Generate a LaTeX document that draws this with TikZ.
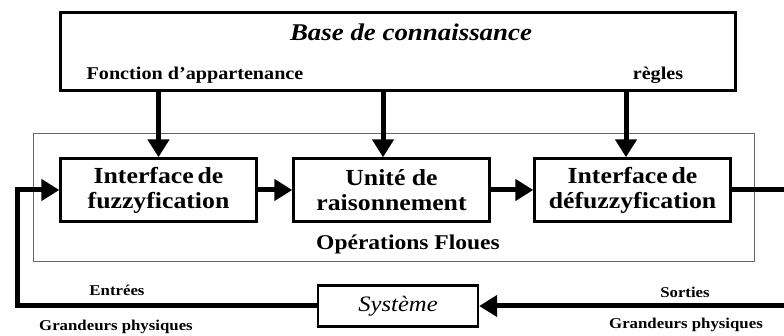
\documentclass[tikz,border=0pt]{standalone}
\usepackage{fontspec}
\setmainfont[FakeStretch=1.12]{Liberation Serif}
\usetikzlibrary{arrows.meta,positioning}
\tikzset{
  bloc/.style={draw,line width=2.4pt,minimum width=196pt,minimum height=63pt,
    inner sep=0pt,align=center,font=\fontsize{23}{25}\selectfont\bfseries},
  flux/.style={line width=5pt,-{Triangle[length=18pt,width=21pt]}},
  etiq/.style={font=\fontsize{18}{20}\selectfont\bfseries},
  petit/.style={font=\fontsize{15}{17}\selectfont\bfseries},
}
\begin{document}
\begin{tikzpicture}[x=1pt,y=-1pt]
  \useasboundingbox (0,0) rectangle (784,336);
  \clip (0,0) rectangle (784,336);
  % Base de connaissance
  \node[draw,line width=3pt,minimum width=675pt,minimum height=78pt] (kb) at (397.5,52) {};
  \node[font=\fontsize{24}{26}\selectfont\bfseries\itshape] (kbt) at (411,32) {Base de connaissance};
  \node[etiq] (fa) at (195,75) {Fonction d'appartenance};
  \node[etiq] (rg) at (658,75) {règles};
  % Operations floues
  \draw[line width=1pt,gray!80!black] (33,134) rectangle (754,262);
  \node[font=\fontsize{21}{23}\selectfont\bfseries] (of) at (408,244) {Opérations Floues};
  % Blocs
  \node[bloc] (fz) at (158.5,190) {Interface\,de\\fuzzyfication};
  \node[bloc] (ur) at (391.5,190) {Unité de\\raisonnement};
  \node[bloc] (df) at (632.5,190) {Interface\,de\\défuzzyfication};
  \node[draw,line width=2.4pt,minimum width=160pt,minimum height=41pt,
    font=\fontsize{22}{24}\selectfont\itshape] (sys) at (398,306) {Système};
  % Fleches
  \draw[flux] (kb.south -| fz.north) -- (fz.north);
  \draw[flux] ([xshift=-8.5pt]kb.south -| ur.north) -- ([xshift=-8.5pt]ur.north);
  \draw[flux] ([xshift=-6.5pt]kb.south -| df.north) -- ([xshift=-6.5pt]df.north);
  \draw[flux] (fz) -- (ur);
  \draw[flux] (ur) -- (df);
  \draw[flux] (df.east) -- ++(60,0) |- (sys.east);
  \coordinate (retour) at (17,190);
  \draw[flux] (sys.west) -| (retour) -- (fz.west);
  % Labels
  \node[petit] (ent) at (117,290) {Entrées};
  \node[petit] (gp1) at (116,327) {Grandeurs physiques};
  \node[petit] (sor) at (685,292) {Sorties};
  \node[petit] (gp2) at (686,325) {Grandeurs physiques};
\end{tikzpicture}
\end{document}
